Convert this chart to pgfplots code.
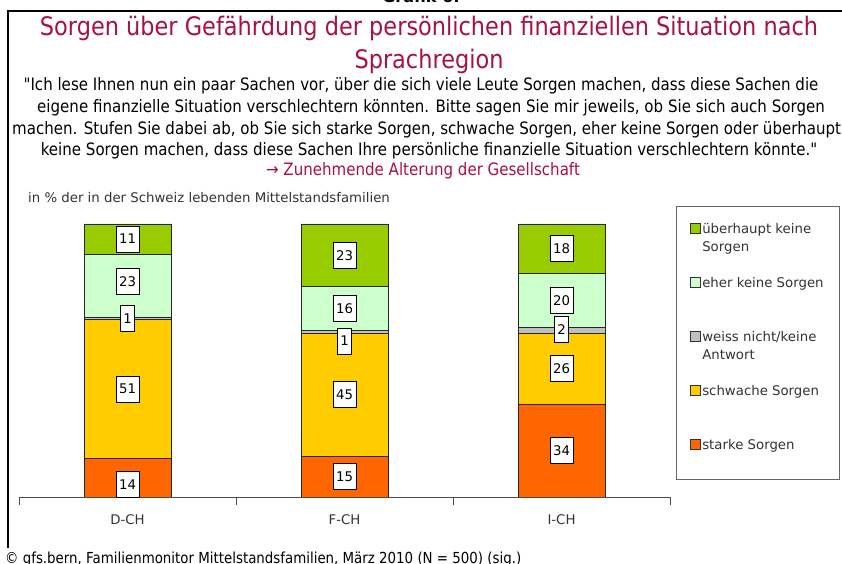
\documentclass[border=0pt]{standalone}
\usepackage{pgfplots}
\pgfplotsset{compat=1.18}
\usepackage{pgfplotstable}
\usepackage{fontspec}
\setmainfont{DejaVu Sans}
\newfontfamily\narrowfont[FakeStretch=0.88]{DejaVu Sans}

\definecolor{titlered}{RGB}{168,16,72}
\definecolor{cStark}{RGB}{255,102,0}
\definecolor{cSchwach}{RGB}{255,204,0}
\definecolor{cWeiss}{RGB}{192,192,192}
\definecolor{cEher}{RGB}{204,255,204}
\definecolor{cUeber}{RGB}{153,204,0}
\definecolor{txt}{RGB}{51,51,51}

\pgfplotstableread{
x starke schwache weiss eher ueberhaupt
0 14 51 1 23 11
1 15 45 1 16 23
2 34 26 2 20 18
}\sorgen

\pgfplotsset{sqleg/.style={legend image code/.code={\draw[##1, draw=black!80, line width=0.6pt] (0pt,-0.5pt) rectangle (10pt,9.5pt);}}}
\newcommand{\chartfont}{\fontsize{13.3}{18}\selectfont}

\begin{document}
\begin{tikzpicture}
\useasboundingbox (0,0) rectangle (842pt,564pt);
\clip (0,0) rectangle (842pt,564pt);
% frame of the slide
\draw[line width=2pt] (8.3pt,16pt) -- (8.3pt,553.2pt) -- (860pt,553.2pt);
\node[font=\bfseries\fontsize{16}{16}\selectfont, anchor=base] at (421pt,561pt) {Grafik 6:};
% titles
\node[text=titlered, font=\narrowfont\fontsize{25.5}{28}\selectfont] at (429pt,536pt) {Sorgen über Gefährdung der persönlichen finanziellen Situation nach};
\node[text=titlered, font=\narrowfont\fontsize{25.5}{28}\selectfont] at (429pt,503pt) {Sprachregion};
\begin{scope}[every node/.style={font=\narrowfont\fontsize{17.1}{18}\selectfont}]
\node at (421pt,478pt) {"Ich lese Ihnen nun ein paar Sachen vor, über die sich viele Leute Sorgen machen, dass diese Sachen die};
\node at (431pt,456pt) {eigene finanzielle Situation verschlechtern könnten. Bitte sagen Sie mir jeweils, ob Sie sich auch Sorgen};
\node[anchor=west, inner xsep=0pt] at (12pt,434pt) {machen. Stufen Sie dabei ab, ob Sie sich starke Sorgen, schwache Sorgen, eher keine Sorgen oder überhaupt};
\node at (429pt,413pt) {keine Sorgen machen, dass diese Sachen Ihre persönliche finanzielle Situation verschlechtern könnte."};
\node[text=titlered] at (423pt,393pt) {→ Zunehmende Alterung der Gesellschaft};
\end{scope}
\node[anchor=west, inner sep=0pt, text=txt, font=\chartfont] at (28pt,366pt) {in \% der in der Schweiz lebenden Mittelstandsfamilien};
\node[anchor=base west, inner sep=0pt, font=\narrowfont\fontsize{15.2}{16}\selectfont] at (5pt,1pt) {© gfs.bern, Familienmonitor Mittelstandsfamilien, März 2010 (N = 500) (sig.)};

\begin{axis}[
  at={(19pt,67pt)}, anchor=south west,
  scale only axis, width=651pt, height=273pt,
  ybar stacked, bar width=87pt,
  xmin=-0.5, xmax=2.5, ymin=0, ymax=100,
  axis y line=none, axis x line*=bottom,
  x axis line style={draw=black!70, line width=0.8pt, -},
  xtick={0,1,2}, xticklabels={D-CH,F-CH,I-CH},
  major tick length=0pt,
  extra x ticks={-0.5,0.5,1.5,2.5}, extra x tick labels={},
  extra x tick style={major tick length=8pt, tick align=outside, tick style={draw=black!70, line width=0.8pt}},
  xticklabel style={font=\chartfont, text=txt, yshift=-14pt},
  every axis plot post/.append style={sqleg},
  reverse legend,
  legend style={name=leg, at={(1.0092,1.0623)}, anchor=north west, draw=none,
    inner xsep=13.5pt, inner ysep=14pt, font=\chartfont, text=txt,
    cells={anchor=base west, inner sep=0pt}, row sep=38.5pt,
    /tikz/every even column/.append style={column sep=4pt}},
]
\addplot[fill=cStark, draw=black!85, line width=0.6pt] table[x=x,y=starke]{\sorgen};
\addlegendentry{\raisebox{0pt}[10pt][3pt]{starke Sorgen}}
\addplot[fill=cSchwach, draw=black!85, line width=0.6pt] table[x=x,y=schwache]{\sorgen};
\addlegendentry{\raisebox{0pt}[10pt][3pt]{schwache Sorgen}}
\addplot[fill=cWeiss, draw=black!85, line width=0.6pt] table[x=x,y=weiss]{\sorgen};
\addlegendentry{\raisebox{0pt}[10pt][3pt]{\parbox[t]{118pt}{weiss nicht/keine\\Antwort}}}
\addplot[fill=cEher, draw=black!85, line width=0.6pt] table[x=x,y=eher]{\sorgen};
\addlegendentry{\raisebox{0pt}[10pt][3pt]{eher keine Sorgen}}
\addplot[fill=cUeber, draw=black!85, line width=0.6pt] table[x=x,y=ueberhaupt]{\sorgen};
\addlegendentry{\raisebox{0pt}[10pt][3pt]{\parbox[t]{118pt}{überhaupt keine\\Sorgen}}}
\end{axis}
% legend frame, extended below the last entry as in the original
\draw[black!60, line width=0.8pt] ([yshift=1pt]leg.north west) rectangle ([yshift=-13pt]leg.south east);

% value labels, placed in the middle of each segment
\begin{axis}[
  at={(19pt,67pt)}, anchor=south west,
  scale only axis, width=651pt, height=273pt,
  xmin=-0.5, xmax=2.5, ymin=0, ymax=100, hide axis,
  nodes near coords, point meta=explicit symbolic,
  every node near coord/.append style={anchor=center, fill=white, draw=black, line width=0.6pt,
    inner xsep=3pt, inner ysep=0pt, minimum height=26pt, font=\chartfont, text=black},
]
\addplot[draw=none, mark=none] coordinates {
  (0,4.5) [14] (0,39.5) [51] (0,65.5) [1] (0,79) [23] (0,94.5) [11]
};
\addplot[draw=none, mark=none] coordinates {
  (1,7.5) [15] (1,37.5) [45] (1,57.1) [1] (1,69) [16] (1,88.5) [23]
};
\addplot[draw=none, mark=none] coordinates {
  (2,17) [34] (2,47) [26] (2,61.5) [2] (2,72) [20] (2,91) [18]
};
\end{axis}
\end{tikzpicture}
\end{document}
